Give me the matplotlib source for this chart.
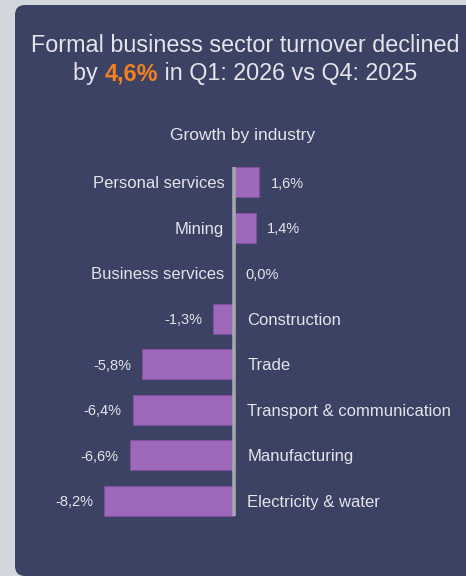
import matplotlib.pyplot as plt
from matplotlib.patches import FancyBboxPatch

# data
categories = ["Personal services", "Mining", "Business services", "Construction",
              "Trade", "Transport & communication", "Manufacturing", "Electricity & water"]
growth = [1.6, 1.4, 0.0, -1.3, -5.8, -6.4, -6.6, -8.2]
headline = 4.6
title_line1 = "Formal business sector turnover declined"
title_pre = "by "
title_post = " in Q1: 2026 vs Q4: 2025"
subtitle = "Growth by industry"

# colours
BG = "#d4d6de"
PANEL = "#3b4263"
TXT = "#e4e4ea"
BAR = "#9e69bb"
EDGE = "#7d519c"
AXIS = "#a6a6ae"
ORANGE = "#f4801f"

plt.rcParams["font.family"] = ["Liberation Sans", "DejaVu Sans"]

W, H = 466, 576
fig = plt.figure(figsize=(W / 100, H / 100), dpi=100)
fig.patch.set_facecolor(BG)

# background panel, drawn in pixel units
bg = fig.add_axes([0, 0, 1, 1])
bg.set_xlim(0, W)
bg.set_ylim(0, H)
bg.axis("off")
bg.add_patch(FancyBboxPatch((15 + 10, 0 + 10), 480 - 15 - 20, 571 - 20,
                            boxstyle="round,pad=10", fc=PANEL, ec="none"))

def fmt(v):
    return f"{v:.1f}%".replace(".", ",")

# title, line 1
bg.text(245, H - 43, title_line1, color=TXT, fontsize=16.8, ha="center", va="center_baseline")

# title, line 2 with highlighted number
y2 = H - 71
parts = [(title_pre, "normal", TXT), (fmt(headline), "bold", ORANGE), (title_post, "normal", TXT)]
texts = [bg.text(0, y2, s, color=c, fontsize=16.8, fontweight=w, ha="left", va="center_baseline")
         for s, w, c in parts]
fig.canvas.draw()
r = fig.canvas.get_renderer()
widths = [t.get_window_extent(r).width for t in texts]
x = 245 - sum(widths) / 2
for t, wd in zip(texts, widths):
    t.set_x(x)
    x += wd

bg.text(243, H - 134, subtitle, color=TXT, fontsize=12.5, ha="center", va="center_baseline")

# bar chart
scale = 15.8  # px per percentage point
zero_px = 234
top_px, bot_px = 159.5, 523.5
ax = fig.add_axes([0, (H - bot_px) / H, 1, (bot_px - top_px) / H])
ax.set_facecolor("none")
ax.set_xlim(-zero_px / scale, (W - zero_px) / scale)
ax.set_ylim(len(categories) - 0.5, -0.5)
ax.axis("off")

ypos = list(range(len(categories)))
ax.barh(ypos, growth, height=0.66, color=BAR, edgecolor=EDGE, linewidth=0.8, zorder=2)
ax.vlines(0, -0.33, len(categories) - 1 + 0.33, color=AXIS, linewidth=2.6, zorder=3)

for yy, cat, v in zip(ypos, categories, growth):
    if v >= 0:
        ax.annotate(cat, (0, yy), xytext=(-7, 0), textcoords="offset points",
                    ha="right", va="center_baseline", color=TXT, fontsize=12)
        ax.annotate(fmt(v), (v, yy), xytext=(8, 0), textcoords="offset points",
                    ha="left", va="center_baseline", color=TXT, fontsize=10.5)
    else:
        ax.annotate(cat, (0, yy), xytext=(9.5, 0), textcoords="offset points",
                    ha="left", va="center_baseline", color=TXT, fontsize=12)
        ax.annotate(fmt(v), (v, yy), xytext=(-8, 0), textcoords="offset points",
                    ha="right", va="center_baseline", color=TXT, fontsize=10.5)

fig.savefig("out.png", dpi=100, facecolor=BG)
